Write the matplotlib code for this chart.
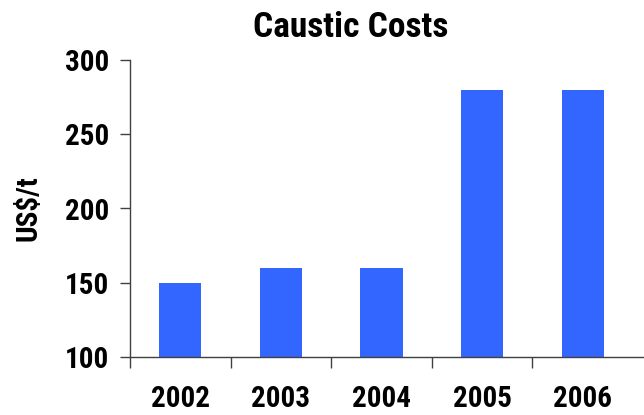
import matplotlib
matplotlib.use("Agg")
import matplotlib.pyplot as plt

years = ["2002", "2003", "2004", "2005", "2006"]
costs = [150, 160, 160, 280, 280]
yticks = [100, 150, 200, 250, 300]

plt.rcParams['font.family'] = ['Roboto Condensed', 'DejaVu Sans']
plt.rcParams['font.weight'] = 'bold'

fig = plt.figure(figsize=(6.44, 4.15), dpi=100)
ax = fig.add_axes([130/644, 1-357/415, 514/644, 297/415])
x = list(range(len(years)))
ax.bar(x, [c - 100 for c in costs], bottom=100, width=0.42, color="#3366FF", zorder=2)
ax.set_xlim(-0.5, len(years) - 0.5 + 11/100.5)
ax.set_ylim(100, 300)
ax.set_yticks(yticks)
ax.set_yticklabels([str(t) for t in yticks], fontsize=21, fontweight='bold')
ax.set_xticks(x)
ax.set_xticklabels(years, fontsize=21, fontweight='bold')
ax.tick_params(axis='x', length=0, pad=20)
ax.set_xticks([i - 0.5 for i in range(len(years))], minor=True)
ax.tick_params(axis='x', which='minor', length=8, direction='out', color='#404040', width=1)
ax.tick_params(axis='y', length=7, direction='out', color='#404040', width=1, pad=8)
for s in ['top', 'right']:
    ax.spines[s].set_visible(False)
for s in ['left', 'bottom']:
    ax.spines[s].set_color('#404040')
    ax.spines[s].set_linewidth(1)
ax.set_ylabel("US$/t", fontsize=21, fontweight='bold', labelpad=16)
fig.text(351/644, 1 - 37/415, "Caustic Costs", fontsize=25.5, fontweight='bold', ha='center', va='baseline')
fig.savefig("out.png", dpi=100)
